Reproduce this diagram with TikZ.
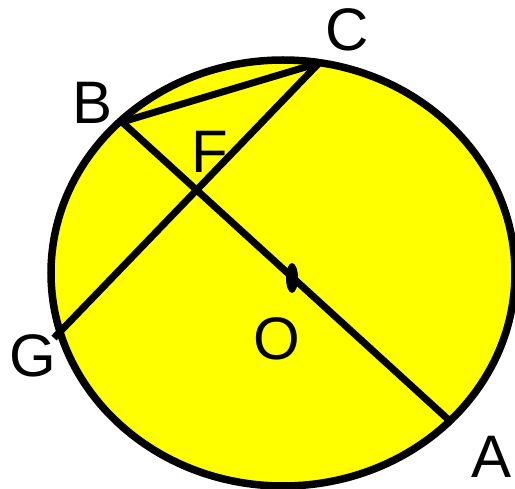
\documentclass[tikz,border=0pt]{standalone}
\usepackage{fontspec}
\setmainfont{Liberation Sans}
\definecolor{discyellow}{RGB}{255,255,0}
\begin{document}
\begin{tikzpicture}[x=1pt,y=-1pt,
  edge/.style={draw=black,line width=7pt,line cap=round,line join=round},
  lbl/.style={inner sep=0pt,font=\fontsize{60}{60}\selectfont,anchor=center}]
\useasboundingbox (0,0) rectangle (515,489);
% disc
\filldraw[fill=discyellow,draw=black,line width=7.5pt] (283,273) ellipse [x radius=232,y radius=213];
% points
\coordinate (B) at (122,122);
\coordinate (C) at (319,63);
\coordinate (A) at (451,422);
\coordinate (G) at (54,338);
\coordinate (O) at (292,278);
% chords
\draw[edge] (B) -- (C);
\draw[edge,line cap=butt] (C) -- (G);
\draw[edge,line cap=butt] (B) -- (A);
% centre mark
\fill[black] (O) ellipse [x radius=6,y radius=15];
% labels
\node[lbl] (lB) at (93,103) {B};
\node[lbl] (lC) at (347,30) {C};
\node[lbl] (lF) at (210,152) {F};
\node[lbl] (lO) at (277,339) {O};
\node[lbl] (lG) at (33,356) {G};
\node[lbl] (lA) at (492,457) {A};
\end{tikzpicture}
\end{document}
